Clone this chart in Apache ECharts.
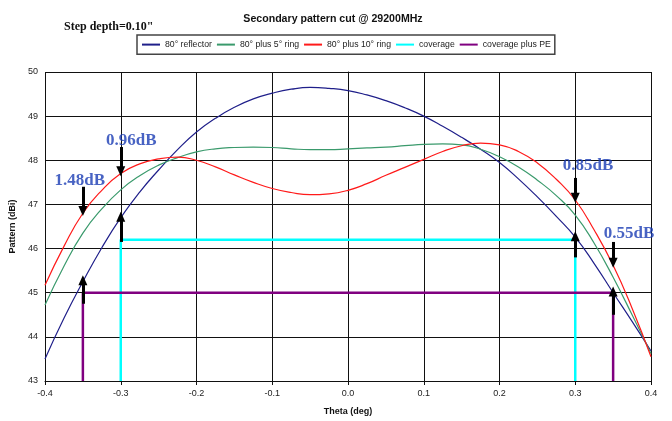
<!DOCTYPE html>
<html>
<head>
<meta charset="utf-8">
<script src="https://cdn.jsdelivr.net/npm/echarts@6/dist/echarts.min.js"></script>
<style>
html, body { margin: 0; padding: 0; background: #fff; }
#main { width: 672px; height: 421px; }
</style>
</head>
<body>
<div id="main"></div>
<script>
// theta samples (deg)
var theta = [-0.4, -0.375, -0.35, -0.325, -0.3, -0.275, -0.25, -0.225, -0.2, -0.175, -0.15, -0.125, -0.1, -0.075, -0.05, -0.025,
	0, 0.025, 0.05, 0.075, 0.1, 0.125, 0.15, 0.175, 0.2, 0.225, 0.25, 0.275, 0.3, 0.325, 0.35, 0.375, 0.4];
// pattern values (dBi)
var reflector = [43.5, 44.42, 45.25, 46.02, 46.7, 47.28, 47.78, 48.24, 48.64, 48.95, 49.2, 49.39, 49.52, 49.61, 49.65, 49.63,
	49.58, 49.48, 49.35, 49.19, 49.0, 48.77, 48.52, 48.25, 47.95, 47.58, 47.17, 46.73, 46.26, 45.66, 45.0, 44.35, 43.68];
var ring5 = [44.72, 45.6, 46.35, 46.9, 47.33, 47.65, 47.89, 48.06, 48.19, 48.26, 48.29, 48.3, 48.29, 48.26, 48.24, 48.24,
	48.26, 48.28, 48.3, 48.33, 48.36, 48.37, 48.35, 48.25, 48.08, 47.85, 47.55, 47.2, 46.76, 46.12, 45.35, 44.5, 43.62];
var ring10 = [45.17, 46.05, 46.8, 47.32, 47.7, 47.92, 48.03, 48.07, 48.0, 47.85, 47.67, 47.5, 47.36, 47.27, 47.22, 47.24,
	47.32, 47.47, 47.66, 47.84, 48.02, 48.2, 48.33, 48.39, 48.35, 48.2, 47.94, 47.57, 47.1, 46.42, 45.62, 44.65, 43.55];

// coverage outlines
var coverage = [[-0.3, 43], [-0.3, 46.2], [0.3, 46.2], [0.3, 43]];
var coveragePE = [[-0.35, 43], [-0.35, 45], [0.35, 45], [0.35, 43]];

// arrows: [theta, from, to]
var downArrows = [[-0.35, 47.4, 46.85], [-0.3, 48.3, 47.75], [0.3, 47.6, 47.15], [0.35, 46.15, 45.68]];
var upArrows = [[-0.35, 44.75, 45.28], [-0.3, 46.15, 46.72], [0.3, 45.8, 46.28], [0.35, 44.5, 45.03]];
// difference labels: [theta, value, text]
var dbLabels = [[-0.354, 47.53, '1.48dB'], [-0.286, 48.44, '0.96dB'], [0.317, 47.87, '0.85dB'], [0.371, 46.33, '0.55dB']];

var seriesNames = ['80° reflector', '80° plus 5° ring', '80° plus 10° ring', 'coverage', 'coverage plus PE'];

function pairs(xs, ys) {
	var out = [];
	for (var i = 0; i < xs.length; i++) {
		out.push([xs[i], ys[i]]);
	}
	return out;
}

var arrowLines = [];
downArrows.concat(upArrows).forEach(function (a) {
	arrowLines.push([{ coord: [a[0], a[1]] }, { coord: [a[0], a[2]] }]);
});

var font = 'Arial, "Liberation Sans", sans-serif';
var myChart = echarts.init(document.getElementById('main'));
var option = {
	animation: false,
	backgroundColor: '#fff',
	title: [{
		text: 'Secondary pattern cut @ 29200MHz',
		left: 328, top: 9, textAlign: 'center',
		textStyle: { fontFamily: font, fontSize: 10.6, fontWeight: 'bold', color: '#111' }
	}, {
		text: 'Step depth=0.10"',
		left: 59, top: 16,
		textStyle: { fontFamily: '"Liberation Serif", "Times New Roman", serif', fontSize: 12, fontWeight: 'bold', color: '#111' }
	}],
	legend: {
		data: seriesNames,
		left: 137, top: 35,
		padding: [4, 4],
		itemGap: 4,
		itemWidth: 18,
		itemStyle: { opacity: 0 },
		borderColor: '#444',
		borderWidth: 1.5,
		textStyle: { fontFamily: font, fontSize: 8.7, color: '#222' }
	},
	grid: { left: 45, right: 21, top: 72, bottom: 40 },
	xAxis: {
		type: 'value', min: -0.4, max: 0.4, interval: 0.1,
		name: 'Theta (deg)', nameLocation: 'middle', nameGap: 26,
		nameTextStyle: { fontFamily: font, fontSize: 9, fontWeight: 'bold', color: '#111' },
		axisLine: { lineStyle: { color: '#111', width: 1 } },
		axisTick: { show: true, length: 4, lineStyle: { color: '#111' } },
		axisLabel: {
			fontFamily: font, fontSize: 9, color: '#222', margin: 8,
			formatter: function (v) { return v.toFixed(1); }
		},
		splitLine: { show: true, lineStyle: { color: '#111', width: 1 } }
	},
	yAxis: {
		type: 'value', min: 43, max: 50, interval: 1,
		name: 'Pattern (dBi)', nameLocation: 'middle', nameGap: 16,
		nameTextStyle: { fontFamily: font, fontSize: 9, fontWeight: 'bold', color: '#111' },
		axisLine: { show: true, lineStyle: { color: '#111', width: 1 } },
		axisTick: { show: true, length: 4, lineStyle: { color: '#111' } },
		axisLabel: { fontFamily: font, fontSize: 9, color: '#222', margin: 7 },
		splitLine: { show: true, lineStyle: { color: '#111', width: 1 } }
	},
	series: [{
		name: 'coverage', type: 'line', data: coverage, symbol: 'none',
		lineStyle: { color: '#00ffff', width: 2.5 }, itemStyle: { color: '#00ffff' }, z: 2
	}, {
		name: 'coverage plus PE', type: 'line', data: coveragePE, symbol: 'none',
		lineStyle: { color: '#800080', width: 2.5 }, itemStyle: { color: '#800080' }, z: 2
	}, {
		name: '80° reflector', type: 'line', data: pairs(theta, reflector), symbol: 'none', smooth: true,
		lineStyle: { color: '#1f1f8a', width: 1.2 }, itemStyle: { color: '#1f1f8a' }, z: 3
	}, {
		name: '80° plus 5° ring', type: 'line', data: pairs(theta, ring5), symbol: 'none', smooth: true,
		lineStyle: { color: '#3a9a6c', width: 1.2 }, itemStyle: { color: '#3a9a6c' }, z: 3
	}, {
		name: '80° plus 10° ring', type: 'line', data: pairs(theta, ring10), symbol: 'none', smooth: true,
		lineStyle: { color: '#ff1a1a', width: 1.2 }, itemStyle: { color: '#ff1a1a' }, z: 3
	}, {
		name: 'annotations', type: 'line', data: [], z: 5,
		markLine: {
			silent: true, animation: false,
			symbol: ['none', 'triangle'], symbolSize: [9, 10],
			label: { show: false },
			lineStyle: { color: '#000', width: 3, type: 'solid' },
			data: arrowLines
		}
	}, {
		name: 'labels', type: 'scatter', symbolSize: 0, z: 6,
		data: dbLabels.map(function (d) { return { value: [d[0], d[1]], name: d[2] }; }),
		label: {
			show: true, position: 'inside',
			formatter: function (p) { return p.name; },
			fontFamily: '"Liberation Serif", "Times New Roman", serif',
			fontSize: 17, fontWeight: 'bold', color: '#1a3cb4'
		}
	}]
};
myChart.setOption(option);
</script>
</body>
</html>
